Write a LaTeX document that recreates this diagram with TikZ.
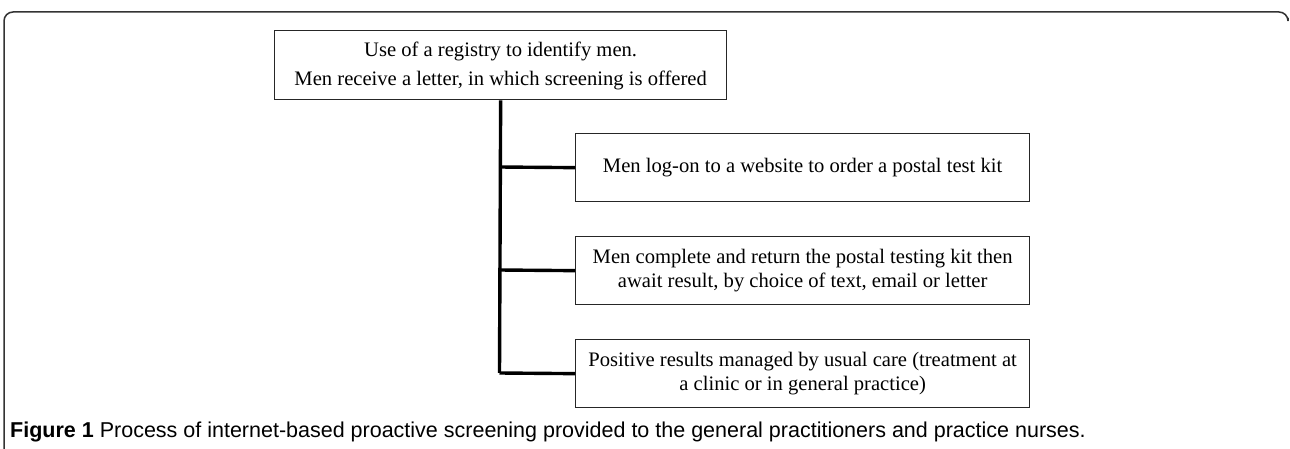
\documentclass[tikz,border=0pt]{standalone}
\usepackage{fontspec}
\setmainfont{Liberation Serif}
\newfontfamily\capfont{Liberation Sans}
\begin{document}
\begin{tikzpicture}[x=1pt,y=-1pt,
  box/.style={draw=black!85,line width=1.3pt,inner sep=0pt,align=center,font=\fontsize{20.6}{24}\selectfont},
  conn/.style={line width=3.4pt,black}]
\useasboundingbox (0,0) rectangle (1290,449);
% frame
\draw[black!80,line width=1.5pt,rounded corners=9pt] (4,449) -- (4,12) -- (1288,12) -- (1288,18);
% boxes
\node[box,minimum width=452pt,minimum height=69pt,anchor=north west,font=\fontsize{20.6}{27}\selectfont] (top) at (274,30)
  {\raisebox{-2pt}{\begin{tabular}{@{}c@{}}Use of a registry to identify men.\\[2pt]Men receive a letter, in which screening is offered\end{tabular}}};
\node[box,minimum width=454pt,minimum height=68pt,anchor=north west] (b1) at (575,133)
  {Men log-on to a website to order a postal test kit};
\node[box,minimum width=454pt,minimum height=68pt,anchor=north west] (b2) at (575,236)
  {Men complete and return the postal testing kit then\\await result, by choice of text, email or letter};
\node[box,minimum width=454pt,minimum height=68pt,anchor=north west] (b3) at (575,339)
  {Positive results managed by usual care (treatment at\\a clinic or in general practice)};
% connectors
\coordinate (t0) at (499.5,99);
\coordinate (t1) at (499.5,167);
\coordinate (t2) at (499.5,270);
\coordinate (t3) at (499.5,373);
\draw[conn] (top.south) -- (t3);
\draw[conn] (t1) -- (b1.west);
\draw[conn] (t2) -- (b2.west);
\draw[conn] (t3) -- (b3.west);
% caption
\node[anchor=west,inner sep=0pt,font=\capfont\fontsize{21.5}{24}\selectfont] (cap) at (10,432)
  {\textbf{Figure 1} Process of internet-based proactive screening provided to the general practitioners and practice nurses.};
\end{tikzpicture}
\end{document}
